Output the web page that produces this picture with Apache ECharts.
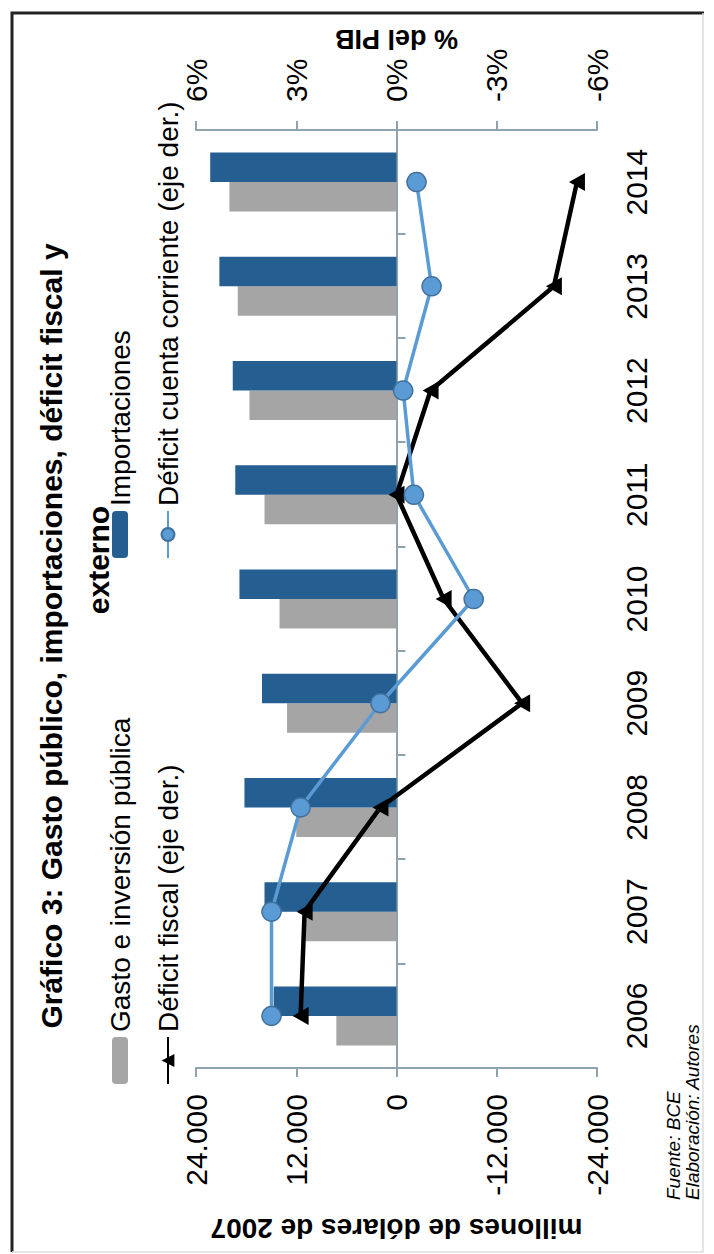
<!DOCTYPE html>
<html><head><meta charset="utf-8">
<script src="https://cdn.jsdelivr.net/npm/echarts@6/dist/echarts.min.js"></script>
<style>
html,body{margin:0;padding:0;background:#fff;overflow:hidden;width:714px;height:1254px}
#rot{position:absolute;left:0;top:0;width:1254px;height:714px;transform-origin:0 0;transform:translate(0,1254px) rotate(-90deg);}
</style></head><body><div id="rot"></div>
<script>
// ---- data ----
const years = ['2006','2007','2008','2009','2010','2011','2012','2013','2014'];
const gastoInversion = [7200, 10900, 12000, 13100, 14000, 15800, 17600, 19000, 20000];
const importaciones = [14700, 15800, 18200, 16100, 18800, 19300, 19600, 21200, 22300];
const deficitFiscal = [2.87, 2.75, 0.48, -3.76, -1.41, 0.0, -1.02, -4.71, -5.4];
const deficitCuenta = [3.74, 3.74, 2.87, 0.48, -2.31, -0.52, -0.2, -1.05, -0.6];
const leftAxisRange = [-24000, 24000, 12000];
const rightAxisRange = [-6, 6, 3];
const titleLine1 = 'Gráfico 3: Gasto público, importaciones, déficit fiscal y';
const titleLine2 = 'externo';
const seriesNames = ['Gasto e inversión pública', 'Importaciones', 'Déficit fiscal (eje der.)', 'Déficit cuenta corriente (eje der.)'];
const leftAxisName = 'millones de dólares de 2007';
const rightAxisName = '% del PIB';
const sourceLines = 'Fuente: BCE\nElaboración: Autores';

function miles(v){
  const s = Math.abs(v).toString().replace(/\B(?=(\d{3})+(?!\d))/g, '.');
  return (v < 0 ? '-' : '') + s;
}
const FONT = 'Liberation Sans, Arial, sans-serif';
const axisCol = '#8ea3b0';
const titleStyle = {fontFamily: FONT, fontSize: 30, fontWeight: 'bold', color: '#000', lineHeight: 30};

const chart = echarts.init(document.getElementById('rot'), null, {renderer: 'svg', width: 1254, height: 714});
chart.setOption({
  backgroundColor: '#fff',
  animation: false,
  textStyle: {fontFamily: FONT, color: '#000'},
  title: [
    {text: titleLine1, left: 618, top: 36, textAlign: 'center', padding: 0, textStyle: titleStyle},
    {text: titleLine2, left: 694, top: 83, textAlign: 'center', padding: 0, textStyle: titleStyle}
  ],
  legend: [
    {data: [seriesNames[0], seriesNames[2]], orient: 'vertical', left: 169, top: 106, itemGap: 20,
     itemWidth: 47, itemHeight: 16, textStyle: {fontFamily: FONT, fontSize: 28, color: '#000'}, padding: 0},
    {data: [seriesNames[1], seriesNames[3]], orient: 'vertical', left: 695, top: 106, itemGap: 20,
     itemWidth: 47, itemHeight: 16, textStyle: {fontFamily: FONT, fontSize: 28, color: '#000'}, padding: 0}
  ],
  grid: {left: 186, right: 130, top: 196, bottom: 117, containLabel: false},
  xAxis: [
    {type: 'category', data: years, position: 'bottom',
     axisLine: {onZero: true, onZeroAxisIndex: 0, lineStyle: {color: axisCol, width: 2}},
     axisTick: {show: true, length: 9, lineStyle: {color: axisCol, width: 2}},
     axisLabel: {show: false}},
    {type: 'category', data: years, position: 'bottom',
     axisLine: {show: false, onZero: false}, axisTick: {show: false},
     axisLabel: {margin: 24, fontSize: 30, fontFamily: FONT, color: '#000'}}
  ],
  yAxis: [
    {type: 'value', min: leftAxisRange[0], max: leftAxisRange[1], interval: leftAxisRange[2], position: 'left',
     name: leftAxisName, nameLocation: 'middle', nameRotate: 90, nameGap: 146,
     nameTextStyle: {fontFamily: FONT, fontSize: 28, fontWeight: 'bold', color: '#000'},
     axisLine: {show: true, lineStyle: {color: axisCol, width: 2}},
     axisTick: {show: true, length: 9, lineStyle: {color: axisCol, width: 2}},
     splitLine: {show: false},
     axisLabel: {formatter: miles, margin: 26, fontSize: 30, fontFamily: FONT, color: '#000'}},
    {type: 'value', min: rightAxisRange[0], max: rightAxisRange[1], interval: rightAxisRange[2], position: 'right',
     name: rightAxisName, nameLocation: 'middle', nameRotate: 90, nameGap: 78, nameMoveOverlap: false,
     nameTextStyle: {fontFamily: FONT, fontSize: 27, fontWeight: 'bold', color: '#000'},
     axisLine: {show: true, lineStyle: {color: axisCol, width: 2}},
     axisTick: {show: true, length: 9, lineStyle: {color: axisCol, width: 2}},
     splitLine: {show: false},
     axisLabel: {formatter: v => v + '%', margin: 28, fontSize: 30, fontFamily: FONT, color: '#000'}}
  ],
  series: [
    {name: seriesNames[0], type: 'bar', data: gastoInversion, xAxisIndex: 0, yAxisIndex: 0,
     barWidth: 29.5, barGap: '0%', itemStyle: {color: '#a5a5a5'}},
    {name: seriesNames[1], type: 'bar', data: importaciones, xAxisIndex: 0, yAxisIndex: 0,
     barWidth: 29.5, barGap: '0%', itemStyle: {color: '#255e91'}},
    {name: seriesNames[2], type: 'line', data: deficitFiscal, xAxisIndex: 0, yAxisIndex: 1,
     symbol: 'triangle', symbolSize: [18, 16], lineStyle: {color: '#000', width: 4.5},
     itemStyle: {color: '#000'}, z: 5},
    {name: seriesNames[3], type: 'line', data: deficitCuenta, xAxisIndex: 0, yAxisIndex: 1,
     symbol: 'circle', symbolSize: 19, lineStyle: {color: '#5b9bd5', width: 3.5},
     itemStyle: {color: '#5b9bd5', borderColor: '#41719c', borderWidth: 1.5}, z: 6}
  ],
  graphic: [
    {type: 'polyline', shape: {points: [[2, 12], [1241, 12], [1241, 704]]}, style: {stroke: '#222', lineWidth: 3, fill: null}, silent: true},
    {type: 'polyline', shape: {points: [[2, 12], [2, 703], [1241, 703]]}, style: {stroke: '#ddd', lineWidth: 1.5, fill: null}, silent: true},
    {type: 'text', left: 54, top: 664, style: {text: sourceLines, fontFamily: FONT, fontSize: 19, fontStyle: 'italic', lineHeight: 19, fill: '#000'}}
  ]
});
</script></body></html>
